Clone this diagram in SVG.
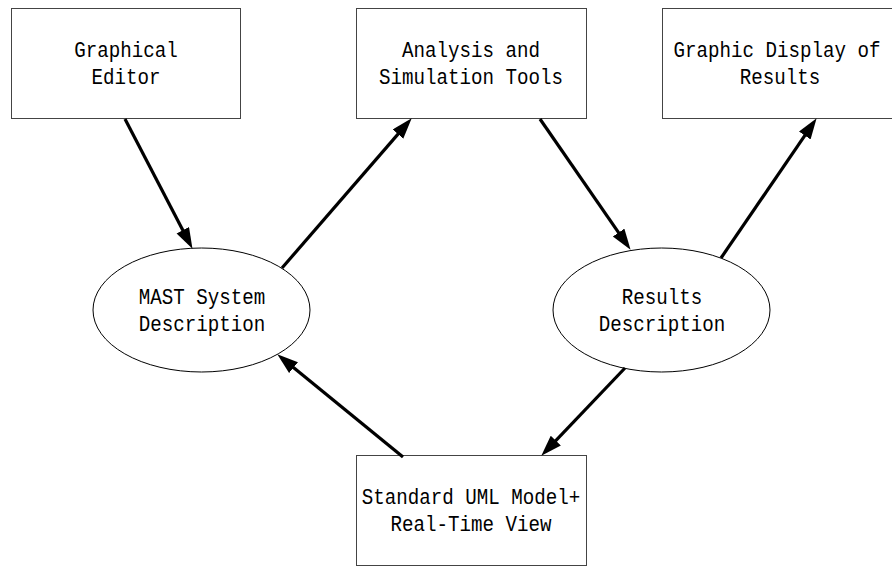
<svg xmlns="http://www.w3.org/2000/svg" width="892" height="566" viewBox="0 0 892 566">
  <style>
    .box { fill: #ffffff; stroke: #444444; stroke-width: 1; }
    .oval { fill: #ffffff; stroke: #000000; stroke-width: 1; }
    .label { font-family: "Liberation Mono", "DejaVu Sans Mono", monospace; font-size: 22px; fill: #000000; text-anchor: middle; }
    .edge { stroke: #000000; stroke-width: 3.2; fill: none; marker-end: url(#head); }
  </style>
  <defs>
    <marker id="head" markerUnits="userSpaceOnUse" markerWidth="22" markerHeight="16" refX="10" refY="7" orient="auto">
      <path d="M0,0 L21,7 L0,14 Z" fill="#000000"/>
    </marker>
  </defs>
  <rect width="892" height="566" fill="#ffffff"/>

  <g id="graphical-editor">
    <rect class="box" x="11.5" y="8.5" width="229" height="110"/>
    <text class="label" x="126" y="57" textLength="103.5" lengthAdjust="spacingAndGlyphs">Graphical</text>
    <text class="label" x="126" y="84" textLength="69" lengthAdjust="spacingAndGlyphs">Editor</text>
  </g>

  <g id="analysis-tools">
    <rect class="box" x="356.5" y="8.5" width="230" height="110"/>
    <text class="label" x="471" y="57" textLength="138" lengthAdjust="spacingAndGlyphs">Analysis and</text>
    <text class="label" x="471" y="84" textLength="184" lengthAdjust="spacingAndGlyphs">Simulation Tools</text>
  </g>

  <g id="results-display">
    <rect class="box" x="662.5" y="8.5" width="232" height="110"/>
    <text class="label" x="777" y="57" textLength="207" lengthAdjust="spacingAndGlyphs">Graphic Display of</text>
    <text class="label" x="780" y="84" textLength="80.5" lengthAdjust="spacingAndGlyphs">Results</text>
  </g>

  <g id="mast-description">
    <ellipse class="oval" cx="201.5" cy="310" rx="108.5" ry="62"/>
    <text class="label" x="202" y="304" textLength="126.5" lengthAdjust="spacingAndGlyphs">MAST System</text>
    <text class="label" x="202" y="331" textLength="126.5" lengthAdjust="spacingAndGlyphs">Description</text>
  </g>

  <g id="results-description">
    <ellipse class="oval" cx="661.5" cy="310" rx="108.5" ry="62"/>
    <text class="label" x="662" y="304" textLength="80.5" lengthAdjust="spacingAndGlyphs">Results</text>
    <text class="label" x="662" y="331" textLength="126.5" lengthAdjust="spacingAndGlyphs">Description</text>
  </g>

  <g id="uml-model">
    <rect class="box" x="356.5" y="455.5" width="230" height="110"/>
    <text class="label" x="471" y="504" textLength="218.5" lengthAdjust="spacingAndGlyphs">Standard UML Model+</text>
    <text class="label" x="471" y="531" textLength="161" lengthAdjust="spacingAndGlyphs">Real-Time View</text>
  </g>

  <g id="connectors">
    <line class="edge" x1="125" y1="119" x2="187.4" y2="239.1"/>
    <line class="edge" x1="282" y1="268" x2="404.5" y2="126.6"/>
    <line class="edge" x1="540" y1="119" x2="624.3" y2="240.8"/>
    <line class="edge" x1="721" y1="258" x2="810.4" y2="127.3"/>
    <line class="edge" x1="403" y1="457" x2="285.8" y2="361.3"/>
    <line class="edge" x1="625" y1="368" x2="548.9" y2="447.8"/>
  </g>
</svg>
